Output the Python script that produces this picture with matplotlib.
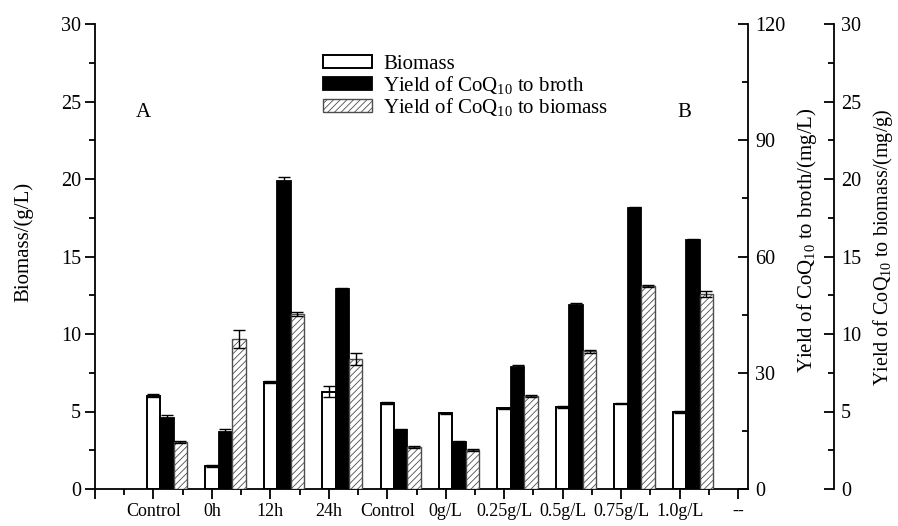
import matplotlib
matplotlib.use("Agg")
import matplotlib.pyplot as plt
import numpy as np

plt.rcParams['font.family'] = ['Liberation Serif', 'DejaVu Serif']
plt.rcParams['mathtext.fontset'] = 'stix'
plt.rcParams['mathtext.default'] = 'regular'
plt.rcParams['hatch.linewidth'] = 0.6

# data
groups = ['Control', '0h', '12h', '24h', 'Control', '0g/L', '0.25g/L', '0.5g/L', '0.75g/L', '1.0g/L']
tick_labels = [''] + groups + ['--']
biomass = [6.03, 1.47, 6.9, 6.29, 5.54, 4.89, 5.2, 5.28, 5.5, 4.98]          # g/L
biomass_err = [0.08, 0.05, 0.06, 0.35, 0.05, 0.04, 0.05, 0.05, 0.04, 0.06]
broth = [18.3, 14.8, 79.6, 51.6, 15.1, 12.2, 31.6, 47.5, 72.4, 64.2]        # mg/L
broth_err = [0.7, 0.6, 0.9, 0.3, 0.3, 0.3, 0.4, 0.5, 0.3, 0.3]
cell = [3.02, 9.7, 11.3, 8.4, 2.72, 2.52, 6.0, 8.9, 13.09, 12.57]          # mg/g
cell_err = [0.08, 0.58, 0.12, 0.4, 0.05, 0.05, 0.08, 0.1, 0.06, 0.2]

fig = plt.figure(figsize=(8.98, 5.26), dpi=100)
ax = fig.add_axes([95/898, 1-489/526, 653/898, 465/526])
ax2 = ax.twinx()
ax3 = ax.twinx()

x = np.arange(1, len(groups)+1)
w = 0.23
ekw = dict(elinewidth=1, capthick=1, ecolor='black')

b1 = ax.bar(x, biomass, w, yerr=biomass_err, capsize=4, color='white',
            edgecolor='black', linewidth=1.4, error_kw=ekw, label='Biomass')
b2 = ax2.bar(x + w, broth, w, yerr=broth_err, capsize=4, color='black',
             edgecolor='black', linewidth=1.3, error_kw=ekw,
             label='Yield of CoQ$_{10}$ to broth')
b3 = ax3.bar(x + 2*w, cell, w, yerr=cell_err, capsize=4, color='white',
             edgecolor='0.3', hatch='/////', linewidth=1.0, error_kw=ekw,
             label='Yield of CoQ$_{10}$ to biomass')

ax.set_xlim(0, 11.17)
ax.set_xticks(np.arange(0, 12))
ax.set_xticklabels(tick_labels)
ax.set_xticks(np.arange(0.5, 11.5, 1), minor=True)

ax.set_ylim(0, 30)
ax.set_yticks(np.arange(0, 31, 5))
ax.set_yticks(np.arange(0, 30, 2.5), minor=True)
ax2.set_ylim(0, 120)
ax2.set_yticks(np.arange(0, 121, 30))
ax2.set_yticks(np.arange(0, 120, 15), minor=True)
ax3.set_ylim(0, 30)
ax3.set_yticks(np.arange(0, 31, 5))
ax3.set_yticks(np.arange(0, 30, 2.5), minor=True)

for a in (ax, ax2, ax3):
    a.spines['top'].set_visible(False)
    for s in a.spines.values():
        s.set_linewidth(1.3)
ax.spines['right'].set_visible(False)
for s in ('left', 'bottom'):
    ax2.spines[s].set_visible(False)
    ax3.spines[s].set_visible(False)
ax3.spines['right'].set_position(('axes', 1 + 86/653))

ax.tick_params(axis='y', which='major', direction='out', length=7, width=1.3,
               labelsize=14.5, pad=3)
ax.tick_params(axis='x', which='major', direction='out', length=7, width=1.3,
               labelsize=13, pad=3)
ax.tick_params(axis='both', which='minor', direction='out', length=4.5, width=1.3)
for a in (ax2, ax3):
    a.tick_params(axis='y', which='major', direction='in', length=7, width=1.3,
                  labelsize=14.5, pad=5)
    a.tick_params(axis='y', which='minor', direction='in', length=4.5, width=1.3)

ax.set_ylabel('Biomass/(g/L)', fontsize=15)
ax2.set_ylabel('Yield of CoQ$_{10}$ to broth/(mg/L)', fontsize=15)
ax3.set_ylabel('Yield of CoQ$_{10}$ to biomass/(mg/g)', fontsize=14.5)
ax.yaxis.set_label_coords(-0.094, 0.531)
ax2.yaxis.set_label_coords(1.072, 0.535)
ax3.yaxis.set_label_coords(1.188, 0.52)

ax.text(0.82, 24.3, 'A', fontsize=15, ha='center', va='center')
ax.text(10.08, 24.3, 'B', fontsize=15, ha='center', va='center')

ax3.legend(handles=[b1, b2, b3], loc='upper left', frameon=False, fontsize=15,
           bbox_to_anchor=(323/898, 1-55/526), bbox_transform=fig.transFigure,
           borderpad=0, borderaxespad=0, handlelength=2.35, handleheight=0.55,
           handletextpad=0.55, labelspacing=0.0)

fig.savefig('out.png', dpi=100)
